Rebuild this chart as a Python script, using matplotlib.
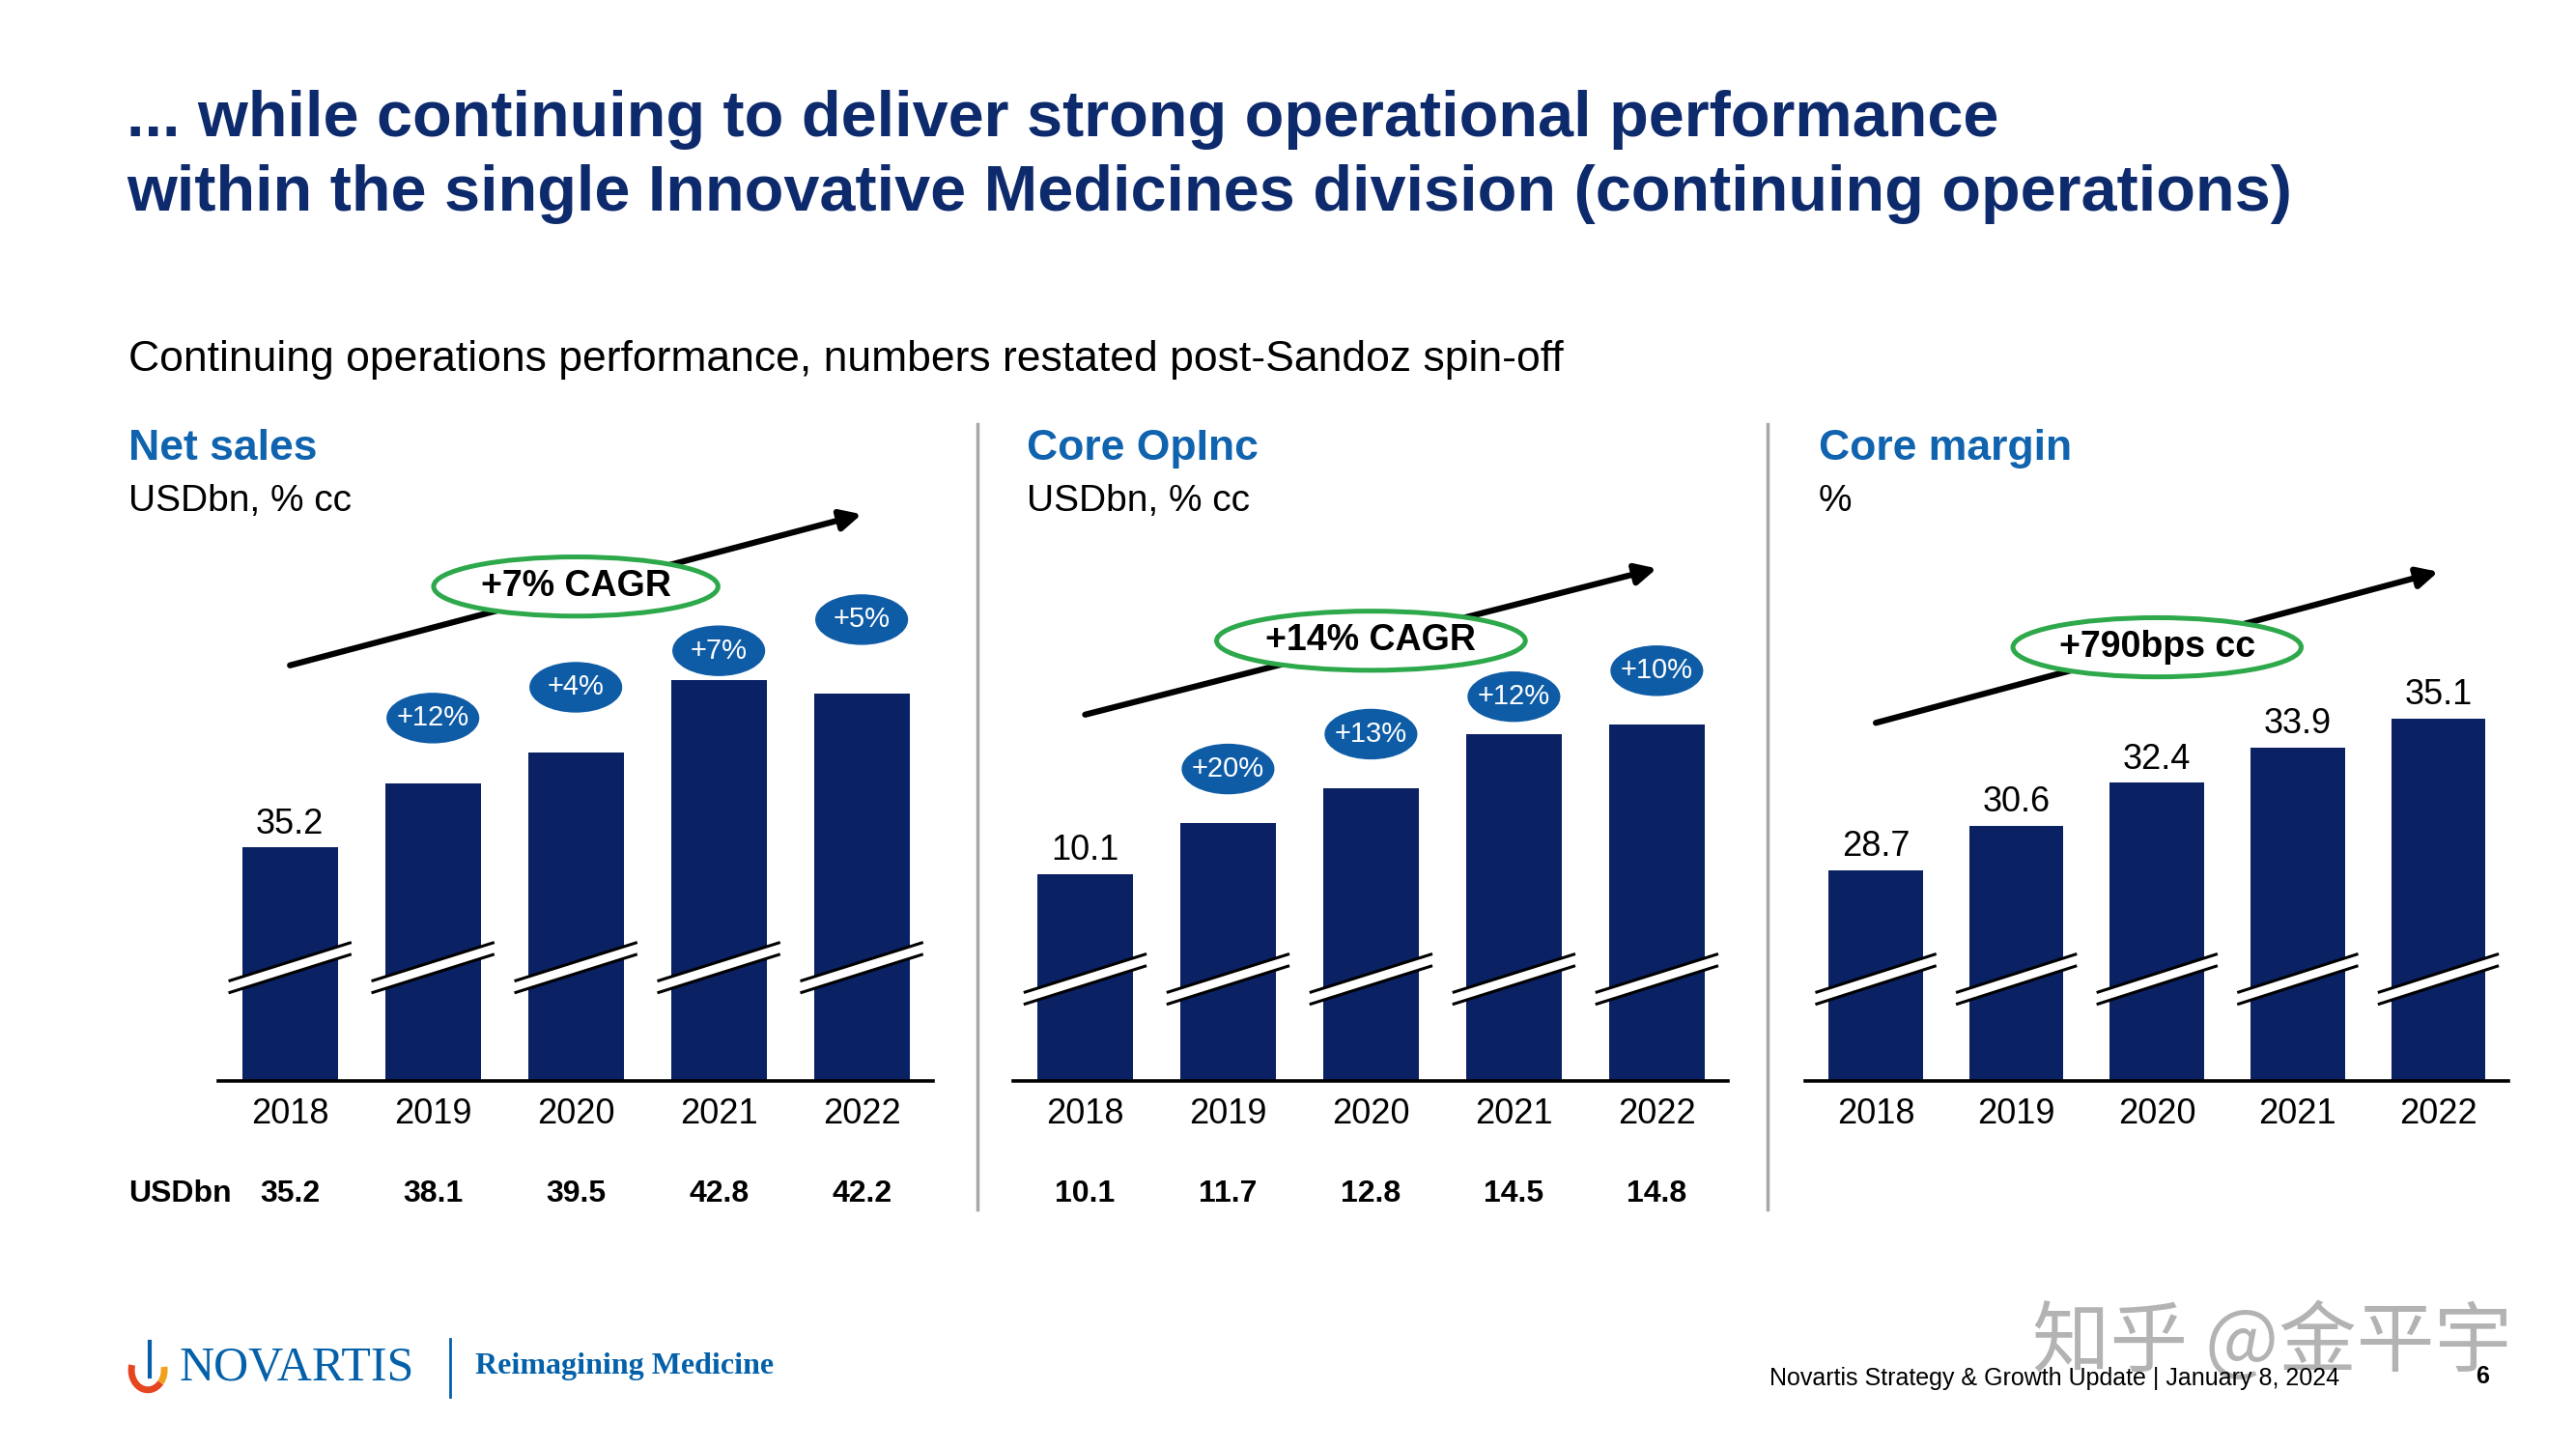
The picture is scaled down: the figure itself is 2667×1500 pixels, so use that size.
import matplotlib
matplotlib.use('Agg')
import matplotlib.pyplot as plt
import matplotlib.transforms as mtransforms
from matplotlib.patches import Ellipse, Polygon, Arc
from matplotlib.lines import Line2D

plt.rcParams['font.family'] = ['Liberation Sans', 'DejaVu Sans']

# ---- data ----
years = ['2018', '2019', '2020', '2021', '2022']

net_sales = [35.2, 38.1, 39.5, 42.8, 42.2]
net_sales_growth = ['+12%', '+4%', '+7%', '+5%']
net_sales_cagr = '+7% CAGR'

core_opinc = [10.1, 11.7, 12.8, 14.5, 14.8]
core_opinc_growth = ['+20%', '+13%', '+12%', '+10%']
core_opinc_cagr = '+14% CAGR'

core_margin = [28.7, 30.6, 32.4, 33.9, 35.1]
core_margin_change = '+790bps cc'

NAVY = '#0A2164'
BADGE = '#0F5CA6'
HEAD = '#1063AE'
TITLE = '#0D2A6D'
GREEN = '#2DA84B'
NOV_BLUE = '#0460A9'

fig = plt.figure(figsize=(26.67, 15), dpi=100)

# layout helpers (positions measured on a 1568x882 copy of the slide)
W, H = 1568.0, 882.0
def fx(x):
    return x / W
def fy(y):
    return 1 - y / H

# title block
fig.text(fx(77), fy(73), '... while continuing to deliver strong operational performance',
         fontsize=48, fontweight='bold', color=TITLE, va='center')
fig.text(fx(77), fy(118), 'within the single Innovative Medicines division (continuing operations)',
         fontsize=48, fontweight='bold', color=TITLE, va='center')
fig.text(fx(78), fy(219), 'Continuing operations performance, numbers restated post-Sandoz spin-off',
         fontsize=32, va='center')


def draw_panel(x0, width, ybot, ppu, values, header, unit, growth=None, badge_off=None,
               all_labels=False, cagr='', cagr_y=0, cagr_w=2.0, arrow_y=(0, 0),
               break_y=590, bottom_row=False):
    ax = fig.add_axes([fx(x0), fy(658), width / W, 400 / H])
    ax.set_xlim(-0.5, 4.5)
    ax.set_ylim(ybot, ybot + 400 / ppu)
    x = list(range(len(values)))
    ax.bar(x, values, width=0.67, color=NAVY, zorder=2)
    for s in ['top', 'right', 'left']:
        ax.spines[s].set_visible(False)
    ax.spines['bottom'].set_linewidth(2.6)
    ax.spines['bottom'].set_zorder(5)
    ax.set_yticks([])
    ax.set_xticks(x, years)
    ax.tick_params(axis='x', length=0, pad=12, labelsize=26)

    blend = mtransforms.blended_transform_factory(ax.transData, fig.transFigure)

    # header
    hx = fx(x0 - 55) if x0 < 200 else fx(x0 + 8)
    fig.text(hx, fy(273), header, fontsize=32, fontweight='bold', color=HEAD, va='center')
    fig.text(hx, fy(305), unit, fontsize=28, va='center')

    # value labels
    for i, v in enumerate(values):
        if all_labels or i == 0:
            ax.annotate(f'{v}', (i, v), xytext=(0, 5), textcoords='offset points',
                        ha='center', va='bottom', fontsize=26, annotation_clip=False)

    # growth badges
    if growth:
        for i, g in enumerate(growth):
            v = values[i + 1]
            yc = v + badge_off[i] / ppu
            ax.add_patch(Ellipse((i + 1, yc), 0.64, 30 / ppu, color=BADGE, zorder=4,
                                 clip_on=False))
            ax.text(i + 1, yc, g, color='white', fontsize=21, ha='center', va='center',
                    zorder=5)

    # trend arrow
    ax.annotate('', xy=(4, fy(arrow_y[1])), xytext=(0, fy(arrow_y[0])),
                xycoords=blend, textcoords=blend, annotation_clip=False,
                arrowprops=dict(arrowstyle='-|>', lw=4.5, color='black',
                                mutation_scale=32, shrinkA=0, shrinkB=0))
    ax.add_patch(Ellipse((2, fy(cagr_y)), cagr_w, 36 / H, transform=blend, facecolor='white',
                         edgecolor=GREEN, lw=3.6, zorder=6, clip_on=False))
    ax.text(2, fy(cagr_y), cagr, transform=blend, fontsize=27, fontweight='bold',
            ha='center', va='center', zorder=7)

    # axis break marks
    hw, rise, th = 0.42, 23 / H, 3.6 / H
    yc = fy(break_y)
    for i in x:
        pts = [(i - hw, yc - rise / 2 - th), (i + hw, yc + rise / 2 - th),
               (i + hw, yc + rise / 2 + th), (i - hw, yc - rise / 2 + th)]
        ax.add_patch(Polygon(pts, closed=True, facecolor='white', edgecolor='none',
                             transform=blend, zorder=3, clip_on=False))
        for sgn in (-1, 1):
            ax.add_line(Line2D([i - hw, i + hw],
                               [yc - rise / 2 + sgn * th, yc + rise / 2 + sgn * th],
                               color='black', lw=2.2, transform=blend, zorder=3,
                               clip_on=False))

    if bottom_row:
        for i, v in enumerate(values):
            ax.text(i, fy(727), f'{v}', transform=blend, fontsize=23, fontweight='bold',
                    ha='center', va='center')
    return ax


draw_panel(133, 435, 24.6, 13.4, net_sales, 'Net sales', 'USDbn, % cc',
           growth=net_sales_growth, badge_off=[40, 40, 18, 45],
           cagr=net_sales_cagr, cagr_y=357, cagr_w=1.99, arrow_y=(405, 313),
           break_y=589, bottom_row=True)
draw_panel(617, 435, 3.57, 19.3, core_opinc, 'Core OpInc', 'USDbn, % cc',
           growth=core_opinc_growth, badge_off=[33, 33, 23, 33],
           cagr=core_opinc_cagr, cagr_y=390, cagr_w=2.16, arrow_y=(435, 346),
           break_y=596, bottom_row=True)
draw_panel(1099, 428, 19.8, 14.4, core_margin, 'Core margin', '%', all_labels=True,
           cagr=core_margin_change, cagr_y=394, cagr_w=2.05, arrow_y=(440, 348),
           break_y=596)

fig.text(fx(78), fy(727), 'USDbn', fontsize=23, fontweight='bold', va='center')

# panel separators
for sx in (595, 1076):
    fig.add_artist(Line2D([fx(sx), fx(sx)], [fy(258), fy(736)], color='#A8A8A8', lw=2.5))

# footer
fig.text(fx(1237), fy(818), '知乎 @金平宇', fontsize=58, color='#a0a0a0', alpha=0.8,
         family=['Noto Sans CJK SC', 'DejaVu Sans'], va='center', zorder=0)
fig.text(fx(1077), fy(839), 'Novartis Strategy & Growth Update | January 8, 2024',
         fontsize=18, va='center')
fig.text(fx(1507), fy(838), '6', fontsize=18, fontweight='bold', va='center')

fig.add_artist(Arc((fx(90), fy(834)), 20 / W, 24 / H, theta1=150, theta2=300,
                   color='#E6461F', lw=5))
fig.add_artist(Arc((fx(90), fy(834)), 20 / W, 24 / H, theta1=300, theta2=20,
                   color='#F2A11D', lw=5))
fig.add_artist(Line2D([fx(91), fx(91)], [fy(817), fy(838)], color=NOV_BLUE, lw=3))
fig.text(fx(109), fy(833), 'NOVARTIS', family=['Liberation Serif'], fontsize=36,
         color=NOV_BLUE, va='center')
fig.add_artist(Line2D([fx(274), fx(274)], [fy(815), fy(850)], color=NOV_BLUE, lw=2))
fig.text(fx(289), fy(832), 'Reimagining Medicine', family=['Liberation Serif'],
         fontweight='bold', fontsize=23, color=NOV_BLUE, va='center')

fig.savefig('out.png', dpi=100, facecolor='white')
